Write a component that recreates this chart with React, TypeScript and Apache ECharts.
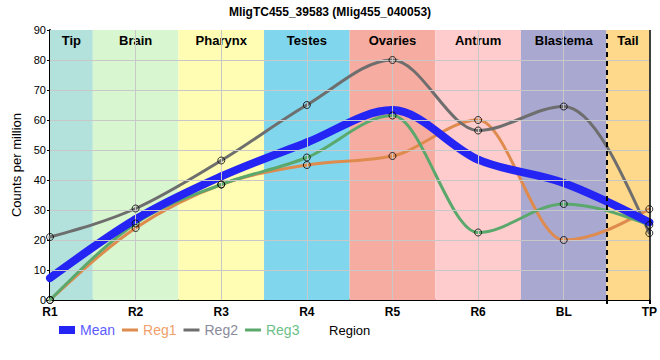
import React, { useEffect, useRef } from "react";
import * as echarts from "echarts";

const categories = ["R1", "R2", "R3", "R4", "R5", "R6", "BL", "TP"];
const regions = ["Tip", "Brain", "Pharynx", "Testes", "Ovaries", "Antrum", "Blastema", "Tail"];
const regionColors = ["#b3e2dc", "#d8f6cf", "#fefdb3", "#80d6ec", "#f6aca0", "#fecccc", "#a8a8d0", "#fed98b"];
const yTicks = [0, 10, 20, 30, 40, 50, 60, 70, 80, 90];

const reg1 = [0, 24, 38.5, 45, 48, 60, 20, 30.3];
const reg2 = [21, 30.5, 46.5, 65, 80, 56.5, 64.5, 22.3];
const reg3 = [0, 25.5, 38.5, 47.5, 61.5, 22.5, 32, 25];
const mean = [7.3, 26.9, 41.2, 52.5, 63.3, 46.8, 39, 25.9];

const seriesNames = ["Mean", "Reg1", "Reg2", "Reg3"];
const lineColors = ["#2424f4", "#e08b4e", "#6e6e6e", "#5aa86c"];
const lineWidths = [8, 3, 3, 3];
const legendTextColors = ["#5c5cff", "#f0a06a", "#8a8a9a", "#6cbf88"];

const FONT = "Liberation Sans";

// monotone-x cubic tangents (pixel space)
function tangents(px: number[][]) {
  const n = px.length;
  const t = new Array(n).fill(0);
  const sign = (v: number) => (v < 0 ? -1 : v > 0 ? 1 : 0);
  for (let i = 1; i < n - 1; i++) {
    const h0 = px[i][0] - px[i - 1][0];
    const h1 = px[i + 1][0] - px[i][0];
    const s0 = (px[i][1] - px[i - 1][1]) / h0;
    const s1 = (px[i + 1][1] - px[i][1]) / h1;
    const p = (s0 * h1 + s1 * h0) / (h0 + h1);
    t[i] = (sign(s0) + sign(s1)) * Math.min(Math.abs(s0), Math.abs(s1), 0.5 * Math.abs(p)) || 0;
  }
  if (n > 1) {
    const h = px[1][0] - px[0][0];
    t[0] = (3 * (px[1][1] - px[0][1]) / h - t[1]) / 2;
    const h2 = px[n - 1][0] - px[n - 2][0];
    t[n - 1] = (3 * (px[n - 1][1] - px[n - 2][1]) / h2 - t[n - 2]) / 2;
  }
  return t;
}

function curveSeries(name: string, arr: number[], color: string, width: number, z: number) {
  return {
    type: "custom",
    name,
    z,
    silent: true,
    data: arr.map((v, i) => [i, v]),
    renderItem: (params: any, api: any) => {
      const i = params.dataIndex;
      if (i >= arr.length - 1) return null;
      const px = arr.map((v, j) => api.coord([j, v]));
      const t = tangents(px);
      const [x0, y0] = px[i];
      const [x1, y1] = px[i + 1];
      const dx = (x1 - x0) / 3;
      return {
        type: "bezierCurve",
        shape: {
          x1: x0,
          y1: y0,
          cpx1: x0 + dx,
          cpy1: y0 + dx * t[i],
          cpx2: x1 - dx,
          cpy2: y1 - dx * t[i + 1],
          x2: x1,
          y2: y1,
        },
        style: { stroke: color, lineWidth: width, fill: null, lineCap: "round" },
      };
    },
  };
}

export default function App() {
  const ref = useRef<HTMLDivElement>(null);
  useEffect(() => {
    if (!ref.current) return;
    const chart = echarts.init(ref.current, null, { renderer: "svg" });
    const toPts = (arr: number[]) => arr.map((v, i) => [i, v]);
    const n = categories.length - 1;

    const bands = regions.map((r, i) => [
      {
        xAxis: Math.max(0, i - 0.5),
        yAxis: 0,
        name: r,
        itemStyle: { color: regionColors[i], opacity: 1 },
      },
      { xAxis: Math.min(n, i + 0.5), yAxis: 90 },
    ]);

    const gridLines: any[] = [];
    yTicks.slice(1, -1).forEach((t) => gridLines.push({ yAxis: t }));
    categories.slice(1, -1).forEach((_, i) => gridLines.push({ xAxis: i + 1 }));
    gridLines.push({ xAxis: n, lineStyle: { color: "#000", width: 1.5, type: "solid" } });
    gridLines.push({ xAxis: n - 0.5, lineStyle: { color: "#000", width: 2, type: [5, 4] } });

    const regData = [reg1, reg2, reg3];
    const lineLegendIcon = "path://M0,0M0,2.5L16,2.5L16,5.5L0,5.5ZM16,8";

    const option: any = {
      animation: false,
      title: {
        text: "MligTC455_39583 (Mlig455_040053)",
        left: "center",
        top: 1,
        textStyle: { fontFamily: FONT, fontSize: 12, fontWeight: "bold", color: "#000" },
      },
      grid: { left: 50, right: 10, top: 30, bottom: 60 },
      legend: {
        left: 54,
        top: 318,
        itemWidth: 16,
        itemHeight: 8,
        itemGap: 7,
        textStyle: { fontFamily: FONT, fontSize: 14 },
        data: seriesNames.map((nm, i) => ({
          name: nm,
          icon: i === 0 ? "rect" : lineLegendIcon,
          itemStyle: { color: lineColors[i], borderWidth: 0 },
          textStyle: { color: legendTextColors[i] },
        })),
      },
      xAxis: {
        type: "value",
        min: 0,
        max: n,
        interval: 1,
        name: "Region",
        nameLocation: "middle",
        nameGap: 24,
        nameTextStyle: { fontFamily: FONT, fontSize: 13, color: "#000" },
        axisLine: { show: true, lineStyle: { color: "#000", width: 2 } },
        axisTick: {
          show: true,
          customValues: [n - 0.5, n],
          length: 4,
          lineStyle: { color: "#000", width: 2 },
        },
        splitLine: { show: false },
        axisLabel: {
          fontFamily: FONT,
          fontSize: 12,
          fontWeight: "bold",
          color: "#000",
          margin: 6,
          formatter: (v: number) => categories[Math.round(v)] ?? "",
        },
      },
      yAxis: {
        type: "value",
        min: 0,
        max: 90,
        interval: 10,
        name: "Counts per million",
        nameLocation: "middle",
        nameGap: 22,
        nameTextStyle: { fontFamily: FONT, fontSize: 13, color: "#000" },
        axisLine: { show: true, lineStyle: { color: "#000", width: 2 } },
        axisTick: { show: true, length: 3, lineStyle: { color: "#000" } },
        splitLine: { show: false },
        axisLabel: { fontFamily: FONT, fontSize: 11, color: "#000", margin: 4 },
      },
      series: [
        {
          type: "line",
          name: "__bands",
          data: [],
          z: 1,
          silent: true,
          markArea: {
            silent: true,
            label: {
              show: true,
              position: "insideTop",
              distance: 4,
              fontFamily: FONT,
              fontSize: 13,
              fontWeight: "bold",
              color: "#000",
            },
            data: bands,
          },
        },
        {
          type: "line",
          name: "__grid",
          data: [],
          z: 2,
          silent: true,
          markLine: {
            silent: true,
            symbol: "none",
            label: { show: false },
            lineStyle: { color: "#c8c8c8", width: 1, type: "solid" },
            data: gridLines,
          },
        },
        ...regData.map((d, i) =>
          curveSeries(seriesNames[i + 1], d, lineColors[i + 1], lineWidths[i + 1], 3)
        ),
        curveSeries("Mean", mean, lineColors[0], lineWidths[0], 4),
        ...regData.map((d, i) => ({
          type: "scatter",
          name: seriesNames[i + 1],
          data: toPts(d),
          symbol: "circle",
          symbolSize: 7,
          z: 5,
          silent: true,
          itemStyle: { color: "rgba(0,0,0,0)", borderColor: "#000", borderWidth: 1 },
        })),
      ],
    };
    chart.setOption(option);
    return () => chart.dispose();
  }, []);
  return (
    <div
      ref={ref}
      style={{ position: "absolute", left: 0, top: 0, width: 660, height: 360 }}
    />
  );
}
